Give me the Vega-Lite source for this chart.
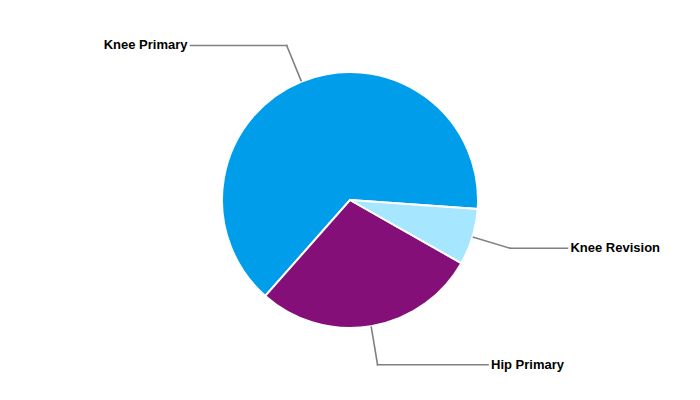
{
  "$schema": "https://vega.github.io/schema/vega-lite/v6.json",
  "width": 700,
  "height": 400,
  "padding": 0,
  "autosize": {"type": "none"},
  "view": {"stroke": null},
  "config": {"font": "Liberation Sans"},
  "data": {
    "values": [
      {"category": "Knee Primary", "value": 64.6},
      {"category": "Hip Primary", "value": 28.3},
      {"category": "Knee Revision", "value": 7.1}
    ]
  },
  "transform": [
    {"window": [{"op": "sum", "field": "value", "as": "cum"}], "sort": [{"field": "value", "order": "ascending"}], "frame": [null, 0]},
    {"joinaggregate": [{"op": "sum", "field": "value", "as": "total"}]},
    {"calculate": "(datum.cum - datum.value) / datum.total", "as": "t0"},
    {"calculate": "datum.cum / datum.total", "as": "t1"},
    {"calculate": "1.6406 + 2 * PI * (datum.cum - datum.value / 2) / datum.total", "as": "mid"},
    {"calculate": "129 * sin(datum.mid)", "as": "sx"},
    {"calculate": "129 * cos(datum.mid)", "as": "sy"},
    {"calculate": "167 * sin(datum.mid)", "as": "ex"},
    {"calculate": "167 * cos(datum.mid)", "as": "ey"},
    {"calculate": "(datum.ex < 0 ? -1 : 1) * (121.5 + 0.6 * abs(datum.ex))", "as": "hx"},
    {"calculate": "datum.hx + (datum.ex < 0 ? -3 : 3)", "as": "lx"}
  ],
  "layer": [
    {
      "mark": {"type": "arc", "outerRadius": 128, "stroke": "white", "strokeWidth": 2},
      "encoding": {
        "theta": {"field": "t0", "type": "quantitative", "scale": {"domain": [0, 1], "range": [1.6406, 7.9238]}},
        "theta2": {"field": "t1"},
        "color": {
          "field": "category",
          "type": "nominal",
          "scale": {"domain": ["Knee Primary", "Hip Primary", "Knee Revision"], "range": ["#009EEA", "#840F78", "#A6E6FF"]},
          "legend": null
        }
      }
    },
    {
      "mark": {"type": "rule", "color": "#808080", "strokeWidth": 1.6, "strokeCap": "square"},
      "encoding": {
        "x": {"field": "sx", "type": "quantitative", "scale": {"domain": [-350, 350], "nice": false, "zero": false}, "axis": null},
        "y": {"field": "sy", "type": "quantitative", "scale": {"domain": [-200, 200], "nice": false, "zero": false}, "axis": null},
        "x2": {"field": "ex"},
        "y2": {"field": "ey"}
      }
    },
    {
      "mark": {"type": "rule", "color": "#808080", "strokeWidth": 1.6, "strokeCap": "square"},
      "encoding": {
        "x": {"field": "ex", "type": "quantitative", "axis": null},
        "y": {"field": "ey", "type": "quantitative", "axis": null},
        "x2": {"field": "hx"},
        "y2": {"field": "ey"}
      }
    },
    {
      "transform": [{"filter": "datum.ex < 0"}],
      "mark": {"type": "text", "align": "right", "baseline": "middle", "fontWeight": "bold", "fontSize": 13, "color": "black"},
      "encoding": {
        "x": {"field": "lx", "type": "quantitative", "axis": null},
        "y": {"field": "ey", "type": "quantitative", "axis": null},
        "text": {"field": "category"}
      }
    },
    {
      "transform": [{"filter": "datum.ex >= 0"}],
      "mark": {"type": "text", "align": "left", "baseline": "middle", "fontWeight": "bold", "fontSize": 13, "color": "black"},
      "encoding": {
        "x": {"field": "lx", "type": "quantitative", "axis": null},
        "y": {"field": "ey", "type": "quantitative", "axis": null},
        "text": {"field": "category"}
      }
    }
  ]
}
